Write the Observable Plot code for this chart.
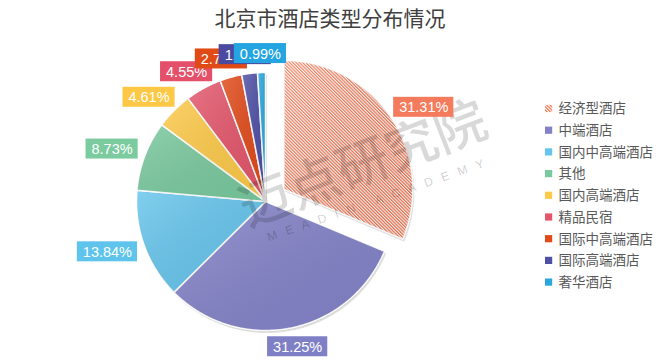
<!DOCTYPE html>
<html><head><meta charset="utf-8">
<script src="https://cdn.jsdelivr.net/npm/d3@7"></script>
<script src="https://cdn.jsdelivr.net/npm/@observablehq/plot@0.6"></script>
<style>
html,body{margin:0;padding:0;background:#fff;}
#title{height:34px;line-height:34px;text-align:center;font-family:"Noto Sans CJK SC",sans-serif;font-size:21px;color:#404040;}
</style></head><body>
<svg width="0" height="0" style="position:absolute">
<defs>
<pattern id="hatch" patternUnits="userSpaceOnUse" width="2.3" height="2.3" patternTransform="rotate(-45)">
 <rect width="2.3" height="2.3" fill="#ffffff"/>
 <rect width="1.2" height="2.3" fill="#f4714b"/>
</pattern>
<linearGradient id="sheen" x1="0" y1="0" x2="1" y2="1">
 <stop offset="0" stop-color="#fff" stop-opacity="0.18"/>
 <stop offset="1" stop-color="#000" stop-opacity="0.05"/>
</linearGradient>
</defs></svg>
<div id="title">北京市酒店类型分布情况</div>
<div id="chart"></div>
<script>
// ---- data ----
const categories = ["经济型酒店","中端酒店","国内中高端酒店","其他","国内高端酒店","精品民宿","国际中高端酒店","国际高端酒店","奢华酒店"];
const shares = [31.31, 31.25, 13.84, 8.73, 4.61, 4.55, 2.75, 1.97, 0.99];
const sliceColors = ["url(#hatch)","#8382c8","#66c5ec","#79c99e","#fdc948","#e4566b","#e24a1a","#4e4fa5","#2ba7e0"];
const labelColors = ["#f47b5c","#7f7fc6","#5ec4ec","#7bcb9f","#fdc845","#e4506a","#e04a14","#4a4ba0","#24a4e0"];
const explodePx = [22,0,0,0,0,0,0,0,0];
const watermarkCN = "迈点研究院";
const watermarkEN = "MEADIN ACADEMY";

// ---- layout ----
const W = 660, H = 328, TOP = 34;
const cx = 265, cy = 201 - TOP, R = 129;
const px2x = px => (px - cx) / R;
const py2y = py => -((py - TOP) - cy) / R;

const ctx = document.createElement("canvas").getContext("2d");
const LABEL_FONT = 14.5;
ctx.font = `${LABEL_FONT}px "Liberation Sans"`;

const arcs = d3.pie().sort(null).value(d => d)(shares);
const sliceSets = [];
const labelData = [];
arcs.forEach((p, i) => {
  const mid = (p.startAngle + p.endAngle) / 2;
  const off = explodePx[i] / R;
  const ox = off * Math.sin(mid), oy = off * Math.cos(mid);
  const cat = categories[i];
  const pts = [{cat, x: ox, y: oy}];
  const n = Math.max(2, Math.ceil((p.endAngle - p.startAngle) / (Math.PI / 360)));
  for (let k = 0; k <= n; k++) {
    const a = p.startAngle + (p.endAngle - p.startAngle) * k / n;
    pts.push({cat, x: ox + Math.sin(a), y: oy + Math.cos(a)});
  }
  pts.push({cat, x: ox, y: oy});
  sliceSets.push({pts, color: sliceColors[i]});
  const text = shares[i].toFixed(2) + "%";
  const w = ctx.measureText(text).width + 11, h = 20;
  const ar = 138 / R;
  const ax = ox + ar * Math.sin(mid), ay = oy + ar * Math.cos(mid);
  const bx = ax + Math.sin(mid) * w / 2 / R, by = ay + Math.cos(mid) * h / 2 / R;
  labelData.push({text, color: labelColors[i], bx, by,
    x1: bx - w / 2 / R, x2: bx + w / 2 / R, y1: by - h / 2 / R, y2: by + h / 2 / R});
});

const legendData = categories.map((c, i) => {
  const py = 108.5 + i * 21.7;
  return {c, color: sliceColors[i], y: py2y(py), y1: py2y(py + 3.6), y2: py2y(py - 3.6)};
});

const sliceMarks = [];
sliceSets.forEach(s => {
  sliceMarks.push(Plot.line(s.pts, {x: "x", y: "y", fill: "#000", fillOpacity: 0.12, stroke: "none", dx: 1.5, dy: 2.5, curve: "linear"}));
  sliceMarks.push(Plot.line(s.pts, {x: "x", y: "y", fill: "#000", fillOpacity: 0.08, stroke: "none", dx: 0.7, dy: 1.2, curve: "linear"}));
});
sliceSets.forEach(s => {
  sliceMarks.push(Plot.line(s.pts, {x: "x", y: "y", fill: s.color, stroke: "white", strokeWidth: 1.5, strokeLinejoin: "round", curve: "linear"}));
});
sliceSets.forEach(s => {
  sliceMarks.push(Plot.line(s.pts, {x: "x", y: "y", fill: "url(#sheen)", stroke: "none", curve: "linear"}));
});

const labelMarks = [];
labelData.forEach(d => {
  labelMarks.push(Plot.rect([d], {x1: "x1", x2: "x2", y1: "y1", y2: "y2", fill: "color"}));
  labelMarks.push(Plot.text([d], {x: "bx", y: "by", text: "text", fill: "white", fontSize: LABEL_FONT, fontFamily: "Liberation Sans", dy: 0.5}));
});

const spacedEN = watermarkEN.split("").join("\u2002 ");

const chart = Plot.plot({
  width: W, height: H, margin: 0,
  x: {domain: [-1, 1], range: [cx - R, cx + R], axis: null},
  y: {domain: [-1, 1], range: [cy + R, cy - R], axis: null},
  color: {type: "identity"},
  style: {background: "white"},
  marks: [
    ...sliceMarks,
    Plot.text([watermarkCN], {x: px2x(363), y: py2y(165), text: d => d, rotate: -21, fontSize: 52, fontWeight: 500, fontFamily: "Noto Sans CJK SC", fill: "#000", fillOpacity: 0.15}),
    Plot.text([spacedEN], {x: px2x(375), y: py2y(200), text: d => d, rotate: -19, fontSize: 12, fontFamily: "Liberation Sans", fill: "#000", fillOpacity: 0.2}),
    ...labelMarks,
    Plot.rect(legendData, {x1: px2x(545), x2: px2x(552.2), y1: "y1", y2: "y2", fill: "color"}),
    Plot.text(legendData, {x: px2x(558), y: "y", text: "c", textAnchor: "start", fontSize: 13.5, fontFamily: "Noto Sans CJK SC", fill: "#595959"})
  ]
});
document.getElementById("chart").appendChild(chart);
</script>
</body></html>
